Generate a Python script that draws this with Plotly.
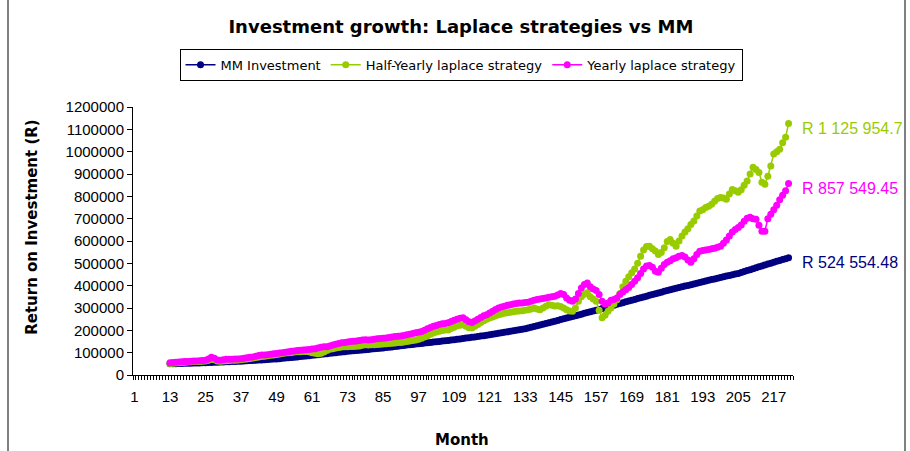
import plotly.graph_objects as go

# Months 13..222 (values in thousands of Rand)
mm_investment_k = [
    50.0, 50.4, 50.9, 51.2, 51.6, 52.1, 52.4, 52.9, 53.3, 53.7, 54.2, 54.6,
    55.0, 55.6, 56.1, 56.7, 57.3, 57.8, 58.4, 59.0, 59.6, 60.2, 60.8, 61.4,
    62.0, 62.8, 63.6, 64.4, 65.2, 66.0, 66.8, 67.6, 68.5, 69.3, 70.2, 71.1,
    72.0, 73.3, 74.6, 75.9, 77.2, 78.5, 79.8, 81.1, 82.4, 83.7, 85.0, 86.4,
    88.0, 89.5, 91.0, 92.5, 94.0, 95.5, 97.0, 98.5, 100.0, 101.5, 103.0, 104.5,
    106.0, 107.2, 108.4, 109.7, 110.9, 112.1, 113.4, 114.6, 115.9, 117.2, 118.4, 119.7,
    121.0, 122.6, 124.2, 125.8, 127.4, 129.0, 130.6, 132.2, 133.8, 135.4, 137.0, 138.5,
    140.0, 141.5, 143.0, 144.5, 146.0, 147.5, 149.0, 150.5, 152.0, 153.5, 155.0, 156.5,
    158.0, 159.8, 161.6, 163.4, 165.2, 167.0, 168.9, 170.7, 172.5, 174.4, 176.2, 178.1,
    180.0, 182.2, 184.4, 186.6, 188.9, 191.1, 193.4, 195.6, 197.9, 200.2, 202.4, 204.7,
    207.0, 210.4, 213.8, 217.2, 220.6, 224.0, 227.4, 230.8, 234.2, 237.6, 241.0, 244.5,
    248.0, 251.5, 255.0, 258.5, 262.0, 265.5, 269.0, 272.5, 276.0, 279.5, 283.0, 286.5,
    290.0, 293.8, 297.5, 301.3, 305.0, 308.8, 312.5, 316.3, 320.0, 323.8, 327.5, 331.3,
    335.0, 338.6, 342.2, 345.8, 349.4, 353.0, 356.6, 360.2, 363.8, 367.4, 371.0, 374.5,
    378.0, 381.3, 384.6, 388.0, 391.3, 394.6, 398.0, 401.3, 404.6, 408.0, 411.3, 414.6,
    418.0, 421.1, 424.2, 427.3, 430.4, 433.5, 436.6, 439.7, 442.8, 445.9, 449.0, 452.0,
    455.0, 459.2, 463.4, 467.5, 471.7, 475.9, 480.0, 484.2, 488.4, 492.5, 496.7, 500.9,
    505.0, 508.9, 512.8, 516.7, 520.6, 524.55448,
]

half_yearly_k = [
    52, 53, 54, 55, 56, 57, 58, 59, 60, 60, 61, 62,
    63, 66, 70, 68, 63, 62, 63, 64, 65, 66, 66, 67,
    68, 70, 72, 74, 76, 78, 81, 83, 84, 86, 88, 90,
    92, 94, 96, 98, 100, 101, 103, 104, 104, 105, 105, 104,
    100, 97, 95, 97, 103, 110, 115, 118, 121, 123, 125, 126,
    127, 128, 128, 129, 130, 133, 135, 134, 135, 136, 137, 138,
    139, 140, 141, 142, 143, 145, 146, 148, 150, 152, 154, 157,
    160, 164, 170, 176, 182, 188, 192, 196, 199, 201, 202, 208,
    214, 220, 223, 225, 218, 212, 211, 218, 226, 235, 243, 250,
    255, 260, 265, 270, 273, 276, 279, 281, 283, 285, 287, 288,
    290, 292, 296, 300, 296, 292, 300, 308, 315, 312, 309, 310,
    307, 300, 292, 287, 285, 300, 330, 350, 362, 368, 350, 340,
    330, 290, 256, 268, 285, 300, 318, 337, 365, 395, 420, 440,
    458, 475, 500, 532, 560, 575, 577, 565, 555, 540, 548, 570,
    598, 607, 590, 577, 600, 622, 640, 655, 674, 690, 712, 734,
    740, 750, 756, 765, 778, 790, 795, 792, 787, 810, 831, 825,
    818, 830, 850, 869, 900, 930, 920, 907, 863, 854, 890, 936,
    989, 1000, 1011, 1040, 1065, 1125.9547,
]

yearly_k = [
    55, 56, 57, 58, 59, 60, 61, 62, 63, 63, 64, 65,
    66, 72, 80, 75, 67, 66, 68, 70, 70, 71, 72, 72,
    73, 75, 77, 79, 81, 84, 87, 89, 90, 91, 93, 95,
    96, 98, 100, 102, 104, 106, 108, 110, 111, 112, 113, 114,
    116, 118, 121, 124, 126, 127, 130, 134, 138, 141, 144, 146,
    148, 150, 151, 152, 154, 157, 158, 157, 158, 160, 162, 163,
    165, 166, 168, 170, 172, 173, 175, 177, 180, 183, 186, 189,
    191, 195, 200, 207, 213, 218, 222, 226, 229, 231, 234, 240,
    245, 250, 254, 256, 247, 238, 235, 242, 250, 258, 265, 270,
    278, 286, 293, 300, 305, 308, 312, 315, 318, 320, 322, 322,
    325, 326, 330, 335, 338, 340, 342, 345, 348, 350, 353, 358,
    365, 360, 345, 335, 330, 340, 365, 390, 405, 412, 395, 385,
    378, 360, 330, 318, 322, 335, 338, 345, 360, 372, 382, 392,
    405, 420, 436, 455, 475, 488, 490, 482, 465, 460, 478, 495,
    505, 512, 520, 525, 532, 535, 528, 515, 505, 520, 540, 554,
    557, 560, 562, 565, 568, 572, 577, 590, 605, 622, 640, 652,
    660, 672, 688, 702, 706, 700, 697, 670, 644, 644, 700, 720,
    740, 760, 785, 805, 825, 857.54945,
]

first_month = 13
x_tick_months = list(range(1, 218, 12))
end_labels = ["R 524 554.48", "R 1 125 954.7", "R 857 549.45"]

series = [
    ("MM Investment", mm_investment_k, "#000080"),
    ("Half-Yearly laplace strategy", half_yearly_k, "#99CC00"),
    ("Yearly laplace strategy", yearly_k, "#FF00FF"),
]

FONT = "Liberation Sans, Arial, sans-serif"
WIDE = "DejaVu Sans, Liberation Sans, sans-serif"

fig = go.Figure()
annotations = []
for (name, vals_k, color), lab in zip(series, end_labels):
    months = list(range(first_month, first_month + len(vals_k)))
    vals = [v * 1000 for v in vals_k]
    fig.add_trace(go.Scatter(
        x=months, y=vals, name=name, mode="lines+markers",
        line=dict(color=color, width=1.5),
        marker=dict(color=color, size=7, symbol="circle"),
    ))
    annotations.append(dict(
        x=months[-1], y=vals[-1], xref="x", yref="y", text=lab,
        showarrow=False, xanchor="left", yanchor="middle", xshift=11, yshift=-5,
        font=dict(family=FONT, size=16, color=color),
    ))

# axis titles
annotations.append(dict(
    x=-0.153, y=0.553, xref="paper", yref="paper", text="<b>Return on Investment (R)</b>",
    textangle=-90, showarrow=False, xanchor="center", yanchor="middle",
    font=dict(family=WIDE, size=15, color="black"),
))
annotations.append(dict(
    x=0.498, y=-0.244, xref="paper", yref="paper", text="<b>Month</b>",
    showarrow=False, xanchor="center", yanchor="middle",
    font=dict(family=WIDE, size=15, color="black"),
))

fig.update_layout(
    width=910, height=451,
    margin=dict(l=133, r=117, t=107, b=76),
    paper_bgcolor="white", plot_bgcolor="white",
    font=dict(family=FONT, color="black"),
    title=dict(
        text="<b>Investment growth: Laplace strategies vs MM</b>",
        x=0.5065, xanchor="center", y=1 - 27 / 451, yanchor="middle",
        font=dict(family=WIDE, size=18, color="black"),
    ),
    legend=dict(
        orientation="h", x=0.497, xanchor="center", xref="paper",
        y=1.157, yanchor="middle",
        bordercolor="black", borderwidth=1, bgcolor="white",
        font=dict(family=WIDE, size=13, color="black"),
        itemwidth=30, tracegroupgap=0,
    ),
    showlegend=True,
    annotations=annotations,
    shapes=[
        dict(type="line", xref="paper", yref="paper",
             x0=(8 - 133) / 660, x1=(8 - 133) / 660, y0=-0.5, y1=1.45,
             line=dict(color="black", width=1)),
        dict(type="line", xref="paper", yref="paper",
             x0=(905 - 133) / 660, x1=(905 - 133) / 660, y0=-0.5, y1=1.45,
             line=dict(color="black", width=1)),
    ],
)

fig.update_xaxes(
    range=[0.5, 223.5], tickmode="array", tickvals=x_tick_months,
    ticktext=[str(m) for m in x_tick_months],
    ticks="", showline=True, linecolor="black", linewidth=1,
    showgrid=False, zeroline=False,
    tickfont=dict(family=FONT, size=15, color="black"),
    minor=dict(tick0=0.5, dtick=1, ticks="outside", ticklen=4,
               tickcolor="black", tickwidth=1, showgrid=False),
    ticklabelstandoff=8,
)
fig.update_yaxes(
    range=[0, 1200000], dtick=100000, tick0=0, tickformat="d",
    ticks="outside", ticklen=5, tickcolor="black",
    showline=True, linecolor="black", linewidth=1,
    showgrid=False, zeroline=False,
    tickfont=dict(family=FONT, size=15, color="black"),
)

fig.write_html(
    "out.html",
    config={"displayModeBar": False},
    post_script="document.body.style.margin='0';document.body.style.overflow='hidden';",
)
